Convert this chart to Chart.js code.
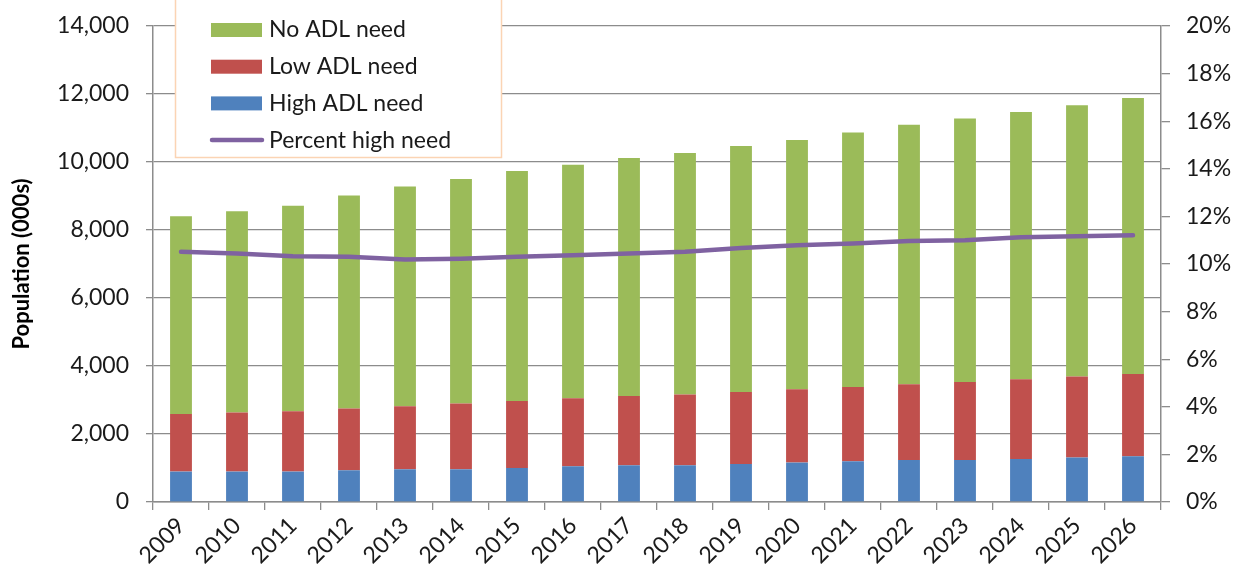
<!DOCTYPE html>
<html>
<head>
<meta charset="utf-8">
<script src="https://cdn.jsdelivr.net/npm/chart.js@4/dist/chart.umd.min.js"></script>
<style>
  html, body { margin: 0; padding: 0; background: #fff; }
  #wrap { width: 1234px; height: 581px; position: relative; }
</style>
</head>
<body>
<div id="wrap"><canvas id="chart"></canvas></div>
<script>
// ── data ──
const years = ['2009','2010','2011','2012','2013','2014','2015','2016','2017',
               '2018','2019','2020','2021','2022','2023','2024','2025','2026'];
const highNeed = [895, 895, 895, 933, 962, 962, 1001, 1051, 1080,
                  1080, 1118, 1160, 1198, 1236, 1236, 1265, 1307, 1345];
const lowNeed  = [1695, 1736, 1774, 1816, 1854, 1934, 1971, 2001, 2040,
                  2081, 2119, 2157, 2186, 2228, 2295, 2346, 2383, 2422];
const noNeed   = [5818, 5924, 6042, 6268, 6466, 6601, 6760, 6866, 6995,
                  7101, 7231, 7328, 7487, 7631, 7752, 7857, 7976, 8114];
const pctHigh  = [10.51, 10.44, 10.33, 10.30, 10.19, 10.22, 10.30, 10.37, 10.44,
                  10.51, 10.67, 10.79, 10.86, 10.97, 11.00, 11.12, 11.17, 11.21];

const GREEN = '#9BBB59', RED = '#C0504D', BLUE = '#4F81BD', PURPLE = '#7F62A1';
const GRID = '#8c8c8c';
const FONT = 'Lato';

// legend drawn by hand so it sits inside the plot like the Excel original
const boxLegend = {
  id: 'boxLegend',
  afterDraw(chart) {
    const ctx = chart.ctx;
    const items = [
      { label: 'No ADL need', color: GREEN, type: 'box' },
      { label: 'Low ADL need', color: RED, type: 'box' },
      { label: 'High ADL need', color: BLUE, type: 'box' },
      { label: 'Percent high need', color: PURPLE, type: 'line' },
    ];
    ctx.save();
    ctx.fillStyle = '#fff';
    ctx.fillRect(175, -2, 327, 160);
    ctx.strokeStyle = '#FBD4B4';
    ctx.lineWidth = 1.5;
    ctx.strokeRect(175.5, -2, 326, 159.5);
    ctx.font = `23px ${FONT}`;
    ctx.textBaseline = 'middle';
    items.forEach((it, i) => {
      const cy = 30 + i * 36.7;
      if (it.type === 'box') {
        ctx.fillStyle = it.color;
        ctx.fillRect(211, cy - 7, 51, 14);
      } else {
        ctx.strokeStyle = it.color;
        ctx.lineWidth = 4.5;
        ctx.lineCap = 'round';
        ctx.beginPath();
        ctx.moveTo(212, cy);
        ctx.lineTo(262, cy);
        ctx.stroke();
      }
      ctx.fillStyle = '#1a1a1a';
      ctx.fillText(it.label, 269, cy);
    });
    ctx.restore();
  }
};

// pin axis box sizes so the plot area lands where the original's does
const fixV = w => s => { s.width = w; s.paddingTop = 0; s.paddingBottom = 0; };

new Chart(document.getElementById('chart'), {
  data: {
    labels: years,
    datasets: [
      { type: 'line', label: 'Percent high need', data: pctHigh, yAxisID: 'y1',
        borderColor: PURPLE, borderWidth: 4.5, pointRadius: 0, tension: 0,
        borderCapStyle: 'round', order: 0 },
      { type: 'bar', label: 'High ADL need', data: highNeed, backgroundColor: BLUE,
        stack: 's', order: 1 },
      { type: 'bar', label: 'Low ADL need', data: lowNeed, backgroundColor: RED,
        stack: 's', order: 1 },
      { type: 'bar', label: 'No ADL need', data: noNeed, backgroundColor: GREEN,
        stack: 's', order: 1 },
    ]
  },
  options: {
    responsive: true, maintainAspectRatio: false, animation: false,
    layout: { padding: { top: 26, right: 0, bottom: 0, left: 0 } },
    datasets: { bar: { barPercentage: 0.39, categoryPercentage: 1 } },
    plugins: { legend: { display: false }, tooltip: { enabled: false } },
    scales: {
      x: {
        stacked: true,
        afterFit: s => { s.height = 79; s.paddingLeft = 0; s.paddingRight = 0; },
        grid: { drawOnChartArea: false, offset: true, tickLength: 8, color: GRID, lineWidth: 1.3 },
        border: { color: GRID, width: 1.5 },
        ticks: { minRotation: 45, maxRotation: 45, color: '#1a1a1a', padding: 2,
                 font: { family: FONT, size: 23 } }
      },
      y: {
        stacked: true, position: 'left', min: 0, max: 14000,
        afterFit: fixV(153),
        grid: { color: GRID, lineWidth: 1.3, tickLength: 7 },
        border: { color: GRID, width: 1.5 },
        ticks: { stepSize: 2000, color: '#1a1a1a', padding: 17,
                 font: { family: FONT, size: 23 },
                 callback: v => v.toLocaleString('en-US') },
        title: { display: true, text: 'Population (000s)', color: '#000',
                 font: { family: FONT, size: 22, weight: 'bold' }, padding: { top: 9, bottom: 0 } }
      },
      y1: {
        position: 'right', min: 0, max: 20,
        afterFit: fixV(73),
        grid: { drawOnChartArea: false, color: GRID, lineWidth: 1.3, tickLength: 9 },
        border: { color: GRID, width: 1.5 },
        ticks: { stepSize: 2, color: '#1a1a1a', padding: 16,
                 font: { family: FONT, size: 23 },
                 callback: v => v + '%' }
      }
    }
  },
  plugins: [boxLegend]
});
</script>
</body>
</html>
